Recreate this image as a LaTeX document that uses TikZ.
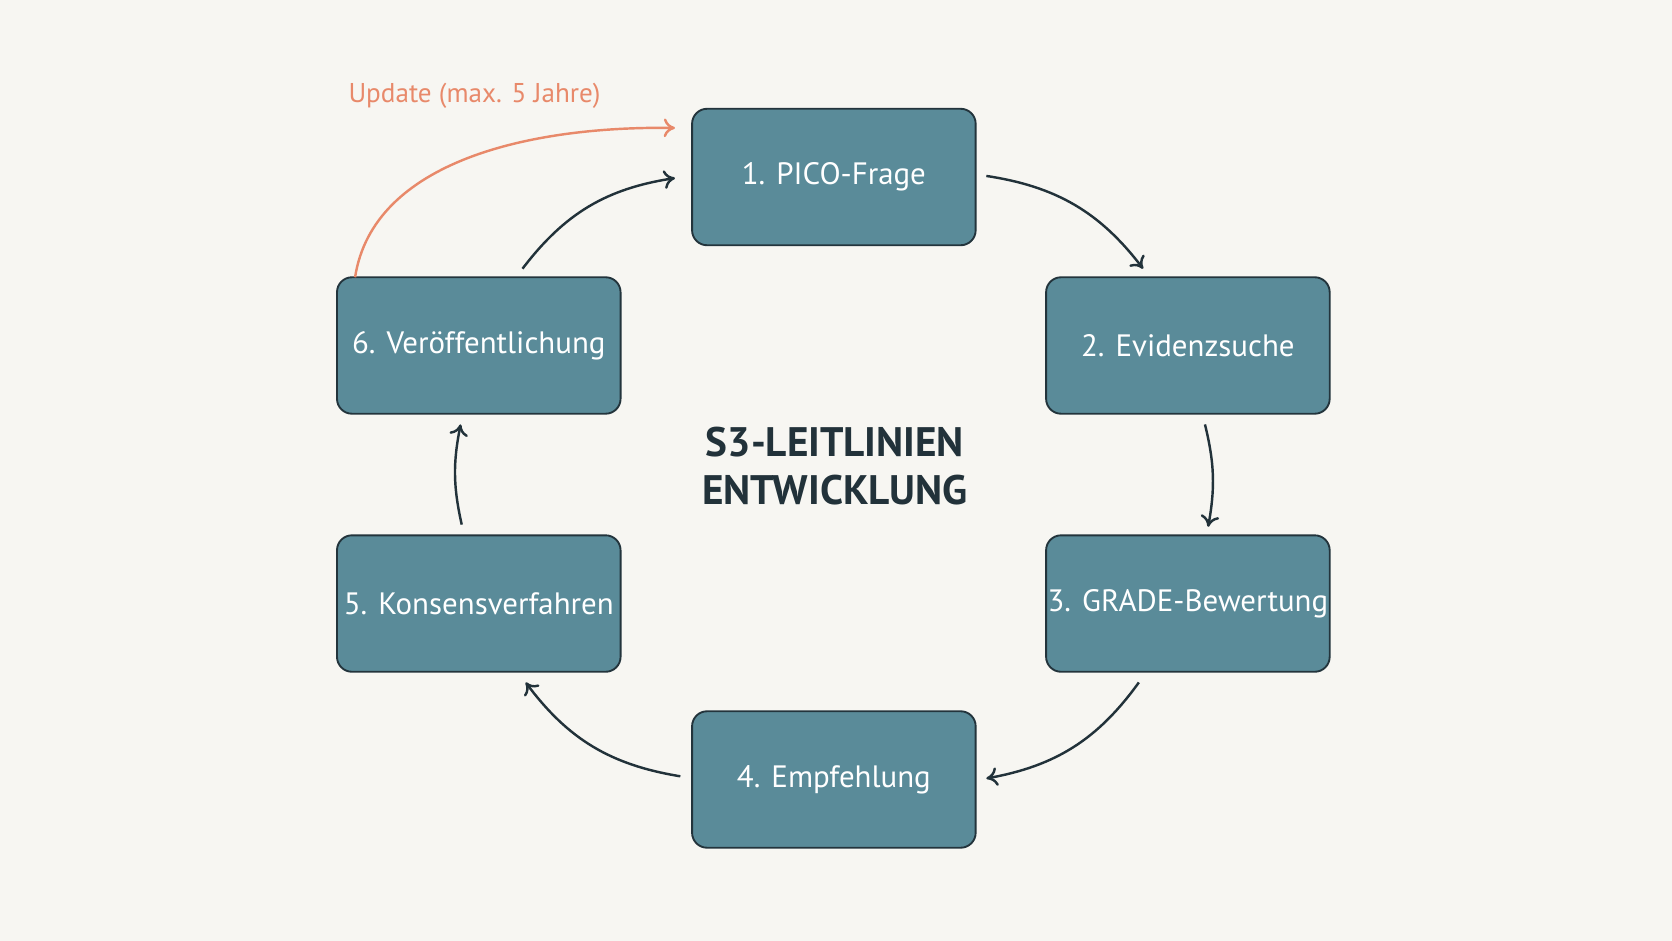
\documentclass[tikz,border=0pt]{standalone}
\usepackage{fontspec}
\setmainfont{PT Sans}
\usetikzlibrary{arrows.meta}
\definecolor{bg}{HTML}{F7F6F2}
\definecolor{boxfill}{HTML}{5A8B99}
\definecolor{boxline}{HTML}{23343C}
\definecolor{ink}{HTML}{22323A}
\definecolor{orng}{HTML}{E8896A}
\begin{document}
\begin{tikzpicture}[x=0.02cm,y=-0.02cm,
  stepbox/.style={draw=boxline,line width=1pt,fill=boxfill,rounded corners=8pt,minimum width=5.32cm,minimum height=2.56cm,inner sep=0pt,text=white,font=\fontsize{16.5}{20}\selectfont},
  conn/.style={draw=ink,line width=1.3pt,-{To[length=6pt,width=10pt]}}]
\fill[bg] (0,0) rectangle (1568,882);
\useasboundingbox (0,0) rectangle (1568,882);
\node[stepbox] (n1) at (782,166) {1. PICO-Frage};
\node[stepbox] (n2) at (1114,324) {2. Evidenzsuche};
\node[stepbox] (n3) at (1114,566) {3. GRADE-Bewertung};
\node[stepbox] (n4) at (782,731) {4. Empfehlung};
\node[stepbox] (n5) at (449,566) {5. Konsensverfahren};
\node[stepbox] (n6) at (449,324) {6. Veröffentlichung};
\node[text=ink,font=\bfseries\fontsize{22}{26}\selectfont,align=center] (t) at (783,437) {S3-LEITLINIEN\\ENTWICKLUNG};
\node[text=orng,font=\fontsize{14.5}{18}\selectfont] (u) at (445,90) {Update (max. 5 Jahre)};
\coordinate (a1) at (925,165); \coordinate (b1) at (1072,252);
\coordinate (a2) at (1130,398); \coordinate (b2) at (1133,494);
\coordinate (a3) at (1068,640); \coordinate (b3) at (925,730);
\coordinate (a4) at (638,728); \coordinate (b4) at (493,640);
\coordinate (a5) at (433,492); \coordinate (b5) at (432,398);
\coordinate (a6) at (490,252); \coordinate (b6) at (633,167);
\coordinate (a7) at (333,260); \coordinate (b7) at (633,120);
\draw[conn] (a1) to[bend left=22] (b1);
\draw[conn] (a2) to[bend left=12] (b2);
\draw[conn] (a3) to[bend left=22] (b3);
\draw[conn] (a4) to[bend left=22] (b4);
\draw[conn] (a5) to[bend left=12] (b5);
\draw[conn] (a6) to[bend left=22] (b6);
\draw[conn,draw=orng] (a7) .. controls (350,150) and (500,118) .. (b7);
\end{tikzpicture}
\end{document}
